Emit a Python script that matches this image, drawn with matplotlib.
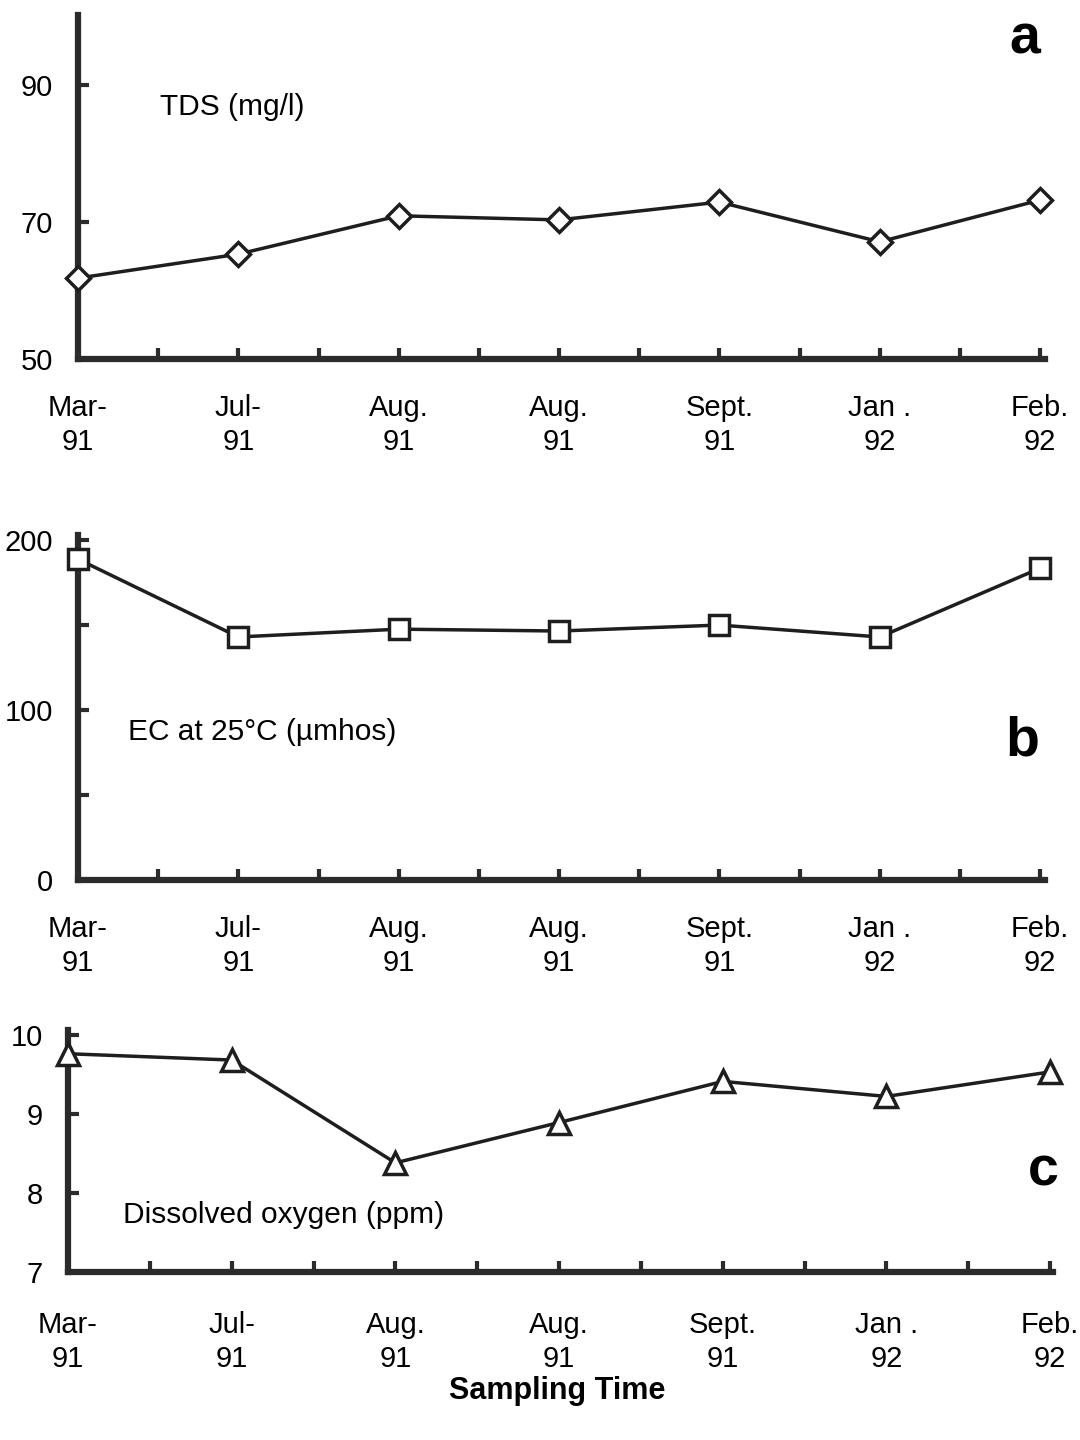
import matplotlib
matplotlib.use("Agg")
import matplotlib.pyplot as plt
from matplotlib.ticker import FixedLocator

plt.rcParams['font.family'] = ['Liberation Sans', 'DejaVu Sans']

# ---- data ----
months = ["Mar-\n91", "Jul-\n91", "Aug.\n91", "Aug.\n91", "Sept.\n91", "Jan .\n92", "Feb.\n92"]
tds = [61.8, 65.3, 70.9, 70.3, 72.9, 67.1, 73.2]
ec = [188.8, 143.0, 147.6, 146.5, 150.0, 143.0, 183.5]
do = [9.76, 9.68, 8.38, 8.89, 9.41, 9.22, 9.53]

W, H = 1080, 1440
fig = plt.figure(figsize=(W / 100, H / 100), dpi=100)

def add_axes_px(left, right, top, bottom):
    return fig.add_axes([left / W, 1 - bottom / H, (right - left) / W, (bottom - top) / H])

line_col = '#1e1e1e'
axis_col = '#2b2b2b'

def style(ax, xmax, ylim, yticks, yminor, xpad):
    x = list(range(len(months)))
    ax.set_xlim(0, xmax)
    ax.set_ylim(*ylim)
    for s in ['top', 'right']:
        ax.spines[s].set_visible(False)
    for s in ['left', 'bottom']:
        ax.spines[s].set_linewidth(4.5)
        ax.spines[s].set_color(axis_col)
    ax.set_xticks(x)
    ax.set_xticklabels(months, linespacing=1.28)
    ax.xaxis.set_minor_locator(FixedLocator([i + 0.5 for i in range(len(months) - 1)]))
    ax.set_yticks(yticks)
    ax.set_yticklabels([str(v) for v in yticks])
    if yminor:
        ax.yaxis.set_minor_locator(FixedLocator(yminor))
    ax.tick_params(axis='x', which='both', direction='in', length=8, width=3,
                   color=axis_col, labelsize=21, pad=xpad)
    ax.tick_params(axis='y', which='both', direction='in', length=8, width=3,
                   color=axis_col, labelsize=21, pad=18)
    ax.patch.set_alpha(0)

# Panel a
ax1 = add_axes_px(78, 1045, 15, 359)
style(ax1, 6.03, (50, 100.2), [50, 70, 90], None, 25)
ax1.plot(range(len(months)), tds, color=line_col, lw=2.5, marker='D', ms=12,
         mfc='white', mec=line_col, mew=2.5, clip_on=False, zorder=5)
fig.text(160 / W, 1 - 107 / H, "TDS (mg/l)", fontsize=21.5, va='center', ha='left')
fig.text(1025 / W, 1 - 40 / H, "a", fontsize=40, fontweight='bold', va='center', ha='center')

# Panel b
ax2 = add_axes_px(78, 1045, 535, 880)
style(ax2, 6.03, (0, 203), [0, 100, 200], [50, 150], 25)
ax2.plot(range(len(months)), ec, color=line_col, lw=2.5, marker='s', ms=15,
         mfc='white', mec=line_col, mew=2.5, clip_on=False, zorder=5)
fig.text(128 / W, 1 - 732 / H, "EC at 25°C (µmhos)", fontsize=21.5, va='center', ha='left')
fig.text(1022 / W, 1 - 742 / H, "b", fontsize=40, fontweight='bold', va='center', ha='center')

# Panel c
ax3 = add_axes_px(68, 1053, 1030, 1272)
style(ax3, 6.018, (7, 10.06), [7, 8, 9, 10], None, 28)
ax3.plot(range(len(months)), do, color=line_col, lw=2.5, marker='^', ms=16,
         mfc='white', mec=line_col, mew=2.5, clip_on=False, zorder=5)
fig.text(123 / W, 1 - 1215 / H, "Dissolved oxygen (ppm)", fontsize=21.5, va='center', ha='left')
fig.text(1043 / W, 1 - 1172 / H, "c", fontsize=40, fontweight='bold', va='center', ha='center')

fig.text(557 / W, 1 - 1391 / H, "Sampling Time", fontsize=22, fontweight='bold',
         va='center', ha='center')

fig.savefig("out.png", dpi=100, facecolor='white')
